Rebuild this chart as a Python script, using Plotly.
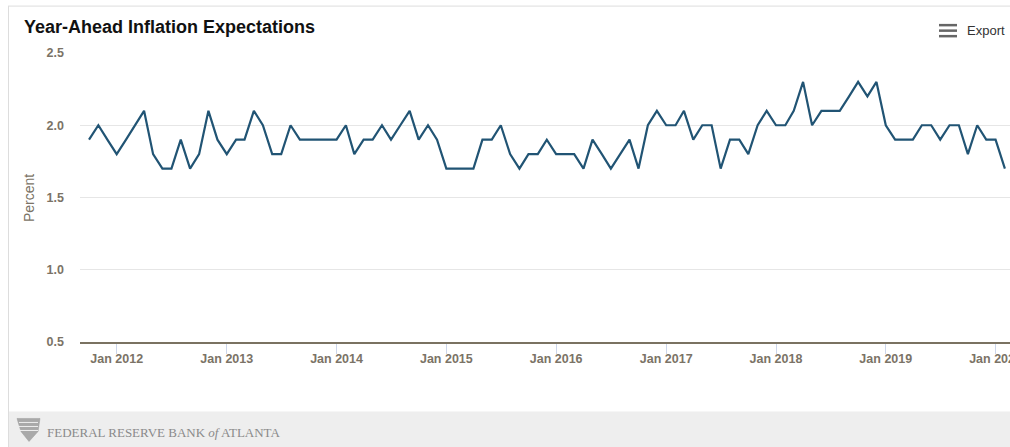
import plotly.graph_objects as go
import pandas as pd

# ---- data ----
start_month = "2011-10-01"
expectations = [
    1.9, 2.0, 1.9,                                              # Oct-Dec 2011
    1.8, 1.9, 2.0, 2.1, 1.8, 1.7, 1.7, 1.9, 1.7, 1.8, 2.1, 1.9,  # 2012
    1.8, 1.9, 1.9, 2.1, 2.0, 1.8, 1.8, 2.0, 1.9, 1.9, 1.9, 1.9,  # 2013
    1.9, 2.0, 1.8, 1.9, 1.9, 2.0, 1.9, 2.0, 2.1, 1.9, 2.0, 1.9,  # 2014
    1.7, 1.7, 1.7, 1.7, 1.9, 1.9, 2.0, 1.8, 1.7, 1.8, 1.8, 1.9,  # 2015
    1.8, 1.8, 1.8, 1.7, 1.9, 1.8, 1.7, 1.8, 1.9, 1.7, 2.0, 2.1,  # 2016
    2.0, 2.0, 2.1, 1.9, 2.0, 2.0, 1.7, 1.9, 1.9, 1.8, 2.0, 2.1,  # 2017
    2.0, 2.0, 2.1, 2.3, 2.0, 2.1, 2.1, 2.1, 2.2, 2.3, 2.2, 2.3,  # 2018
    2.0, 1.9, 1.9, 1.9, 2.0, 2.0, 1.9, 2.0, 2.0, 1.8, 2.0, 1.9,  # 2019
    1.9, 1.7,                                                    # Jan-Feb 2020
]
months = pd.date_range(start_month, periods=len(expectations), freq="MS")
y_ticks = [0.5, 1.0, 1.5, 2.0, 2.5]
y_tick_text = ["0.5", "1.0", "1.5", "2.0", "2.5"]

# ---- geometry helpers (pixels -> paper) ----
W, H = 1010, 447
ML, MR, MT, MB = 80, 0, 53.3, 105.3
PW, PH = W - ML - MR, H - MT - MB


def px(x):
    return (x - ML) / PW


def py(y):
    return (H - MB - y) / PH


FONT = "Liberation Sans, Arial, sans-serif"
LABEL = "#7b7366"

fig = go.Figure()
fig.add_trace(go.Scatter(
    x=months, y=expectations, mode="lines",
    line=dict(color="#215474", width=2.2),
    hoverinfo="x+y", showlegend=False,
))

fig.update_layout(
    width=W, height=H,
    margin=dict(l=ML, r=MR, t=MT, b=MB, autoexpand=False),
    paper_bgcolor="white", plot_bgcolor="white",
    font=dict(family=FONT, size=12, color=LABEL),
    xaxis=dict(
        type="date",
        range=["2011-09-01", "2020-02-18"],
        tick0="2012-01-01", dtick="M12", tickformat="%b %Y",
        ticks="outside", ticklen=10, tickcolor="#ccd6eb", tickwidth=1,
        ticklabelstandoff=-6, ticklabeloverflow="allow",
        showgrid=False, showline=True, linecolor="#7a7261", linewidth=2,
        tickfont=dict(size=12.5, color=LABEL, weight="bold"),
        zeroline=False, fixedrange=True,
    ),
    yaxis=dict(
        range=[0.5, 2.5], tickvals=y_ticks, ticktext=y_tick_text,
        showgrid=True, gridcolor="#e6e6e6", gridwidth=1,
        zeroline=False, showline=False,
        ticks="", ticklabelstandoff=15,
        tickfont=dict(size=12.5, color=LABEL, weight="bold"), fixedrange=True,
    ),
)

shapes = [
    # outer frame top and left borders
    dict(type="line", xref="paper", yref="paper", x0=px(8), x1=px(1010), y0=py(6.5), y1=py(6.5),
         line=dict(color="#dddddd", width=1)),
    dict(type="line", xref="paper", yref="paper", x0=px(8.5), x1=px(8.5), y0=py(6.5), y1=py(447),
         line=dict(color="#dddddd", width=1)),
    # footer band
    dict(type="rect", xref="paper", yref="paper", x0=px(9), x1=px(1010), y0=py(411), y1=py(447),
         fillcolor="#eeeeee", line=dict(width=0), layer="below"),
    # export hamburger icon
    dict(type="line", xref="paper", yref="paper", x0=px(939), x1=px(957), y0=py(25.5), y1=py(25.5),
         line=dict(color="#666666", width=2.5)),
    dict(type="line", xref="paper", yref="paper", x0=px(939), x1=px(957), y0=py(31), y1=py(31),
         line=dict(color="#666666", width=2.5)),
    dict(type="line", xref="paper", yref="paper", x0=px(939), x1=px(957), y0=py(36.5), y1=py(36.5),
         line=dict(color="#666666", width=2.5)),
]
# small bank logo (stylised column/shield)
logo_path = "M {} {} L {} {} L {} {} L {} {} L {} {} Z".format(
    px(17), py(418), px(40), py(418), px(38), py(431), px(29), py(441), px(21), py(431))
shapes.append(dict(type="path", xref="paper", yref="paper", path=logo_path,
                   fillcolor="#a9a9a9", line=dict(color="#9a9a9a", width=0.5)))
for yy in (422, 426, 430):
    shapes.append(dict(type="line", xref="paper", yref="paper", x0=px(19), x1=px(38),
                       y0=py(yy), y1=py(yy), line=dict(color="#eeeeee", width=1)))
fig.update_layout(shapes=shapes)

annotations = [
    dict(text="<b>Year-Ahead Inflation Expectations</b>", xref="paper", yref="paper",
         x=px(22), y=py(27), xanchor="left", yanchor="middle", showarrow=False,
         font=dict(family=FONT, size=18, color="#111111")),
    dict(text="Percent", xref="paper", yref="paper", x=px(29), y=py(198),
         xanchor="center", yanchor="middle", textangle=-90, showarrow=False,
         font=dict(family=FONT, size=14, color=LABEL)),
    dict(text="Export", xref="paper", yref="paper", x=px(965), y=py(31),
         xanchor="left", yanchor="middle", showarrow=False,
         font=dict(family=FONT, size=13, color="#333333")),
    dict(text="FEDERAL RESERVE BANK <i>of</i> ATLANTA", xref="paper", yref="paper",
         x=px(45), y=py(432), xanchor="left", yanchor="middle", showarrow=False,
         font=dict(family="Liberation Serif, Times New Roman, serif", size=13, color="#8a8a8a")),
]
fig.update_layout(annotations=annotations)

fig.write_html("out.html", config={"displayModeBar": False},
               post_script="document.body.style.margin='0';document.body.style.overflow='hidden';")
